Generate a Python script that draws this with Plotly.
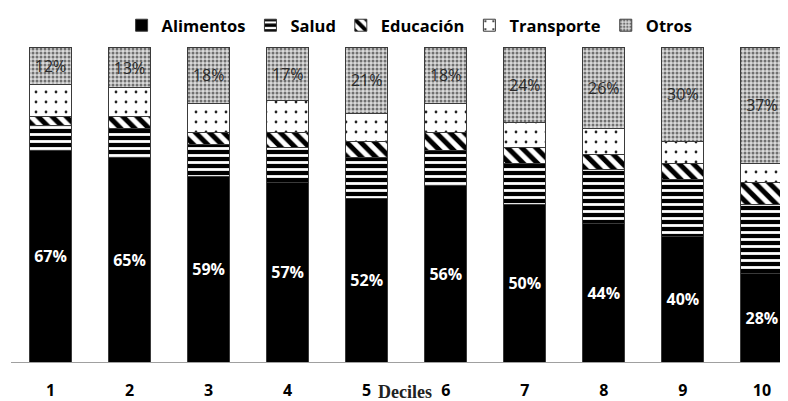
import plotly.graph_objects as go

deciles = ["1", "2", "3", "4", "5", "6", "7", "8", "9", "10"]
alimentos = [67, 65, 59, 57, 52, 56, 50, 44, 40, 28]
salud = [8, 9, 10, 11, 13, 11, 13, 17, 18, 22]
educacion = [3, 4, 4, 5, 5, 6, 5, 5, 5, 7]
transporte = [10, 9, 9, 10, 9, 9, 8, 8, 7, 6]
otros = [12, 13, 18, 17, 21, 18, 24, 26, 30, 37]

FONT = "Open Sans"
BW = 0.53
line = dict(color="#3a3a3a", width=1)

fig = go.Figure()
fig.add_trace(go.Bar(
    name="Alimentos", x=deciles, y=alimentos, width=BW,
    marker=dict(color="black", line=line),
    text=[f"{v}%" for v in alimentos], textposition="inside",
    insidetextanchor="middle", textangle=0,
    textfont=dict(color="white", size=16, family=FONT, weight="bold"),
))
fig.add_trace(go.Bar(
    name="Salud", x=deciles, y=salud, width=BW,
    marker=dict(color="black", line=line,
                pattern=dict(shape="-", fgcolor="white", bgcolor="black",
                             size=7, solidity=0.4, fillmode="replace")),
))
fig.add_trace(go.Bar(
    name="Educación", x=deciles, y=educacion, width=BW,
    marker=dict(color="white", line=line,
                pattern=dict(shape="\\", fgcolor="black", bgcolor="white",
                             size=10, solidity=0.5, fillmode="replace")),
))
fig.add_trace(go.Bar(
    name="Transporte", x=deciles, y=transporte, width=BW,
    marker=dict(color="white", line=line,
                pattern=dict(shape=".", fgcolor="#222222", bgcolor="white",
                             size=10, solidity=0.06, fillmode="replace")),
))
fig.add_trace(go.Bar(
    name="Otros", x=deciles, y=otros, width=BW,
    marker=dict(color="#c8c8c8", line=line,
                pattern=dict(shape=".", fgcolor="#707070", bgcolor="#dadada",
                             size=4, solidity=0.45, fillmode="replace")),
    text=[f"{v}%" for v in otros], textposition="inside",
    insidetextanchor="middle", textangle=0,
    textfont=dict(color="#2a2a2a", size=17, family=FONT),
))

fig.update_layout(
    barmode="stack",
    width=780, height=393,
    margin=dict(l=3, r=0, t=36, b=39),
    plot_bgcolor="white", paper_bgcolor="white",
    uniformtext=dict(mode="show", minsize=16),
    showlegend=True,
    legend=dict(orientation="h", x=0.513, xanchor="center", y=1.069, yanchor="middle",
                font=dict(family=FONT, size=16.5, color="black", weight="bold"),
                itemwidth=30, traceorder="normal"),
    xaxis=dict(range=[-0.5, 9.33], showline=True, linecolor="#a0a0a0", linewidth=1,
               showgrid=False, ticks="", ticklabelstandoff=14,
               tickfont=dict(family=FONT, size=16, color="black", weight="bold"),
               automargin=False),
    yaxis=dict(range=[0, 100], visible=False, showgrid=False, automargin=False),
    font=dict(family=FONT),
    annotations=[dict(text="Deciles", xref="paper", yref="paper", x=0.507, y=0,
                      yshift=-30, xanchor="center", yanchor="middle", showarrow=False,
                      font=dict(family="Liberation Serif", size=18, color="#222222", weight="bold"))],
)

fig.write_html("out.html")
